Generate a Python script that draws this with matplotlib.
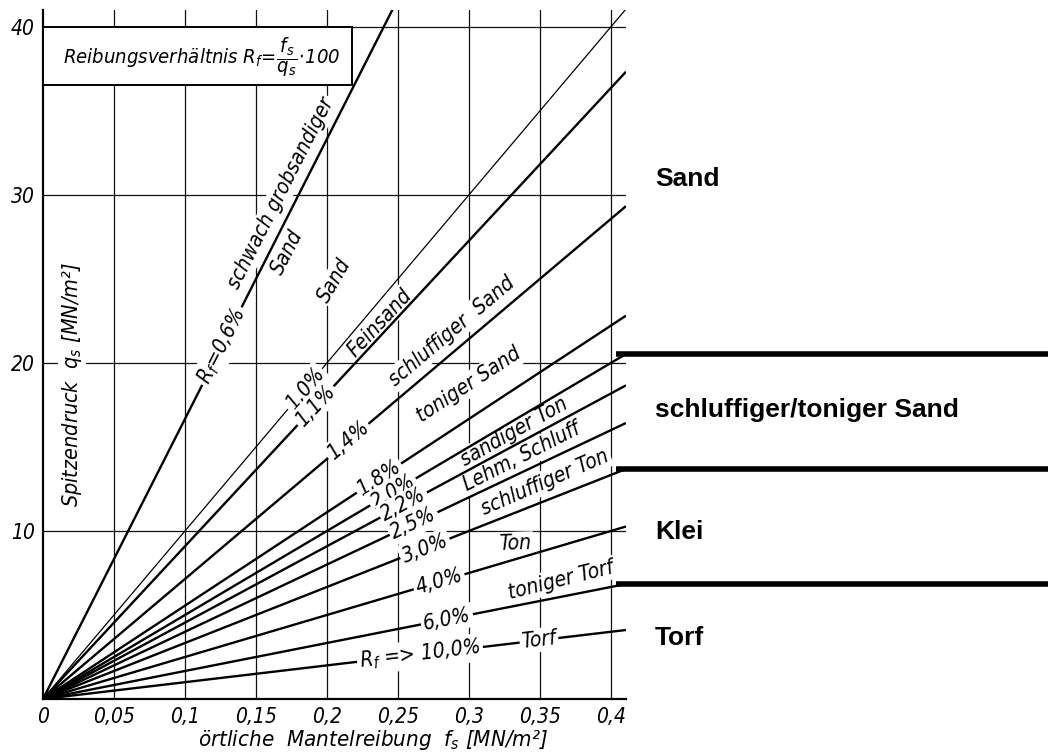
import math
import matplotlib
matplotlib.use("Agg")
import matplotlib.pyplot as plt
import matplotlib.transforms as mtransforms
from matplotlib.patches import Rectangle

plt.rcParams['font.family'] = ['DejaVu Sans']
plt.rcParams['font.style'] = 'italic'
plt.rcParams['font.stretch'] = 'condensed'
plt.rcParams['mathtext.fontset'] = 'custom'
plt.rcParams['mathtext.rm'] = 'DejaVu Sans:italic'
plt.rcParams['mathtext.it'] = 'DejaVu Sans:italic'
plt.rcParams['mathtext.bf'] = 'DejaVu Sans:italic:bold'

# ---------------- data ----------------
rf_values = [0.6, 1.0, 1.1, 1.4, 1.8, 2.0, 2.2, 2.5, 3.0, 4.0, 6.0, 10.0]
rf_labels = [r"$R_f$=0,6%", "1,0%", "1,1%", "1,4%", "1,8%", "2,0%", "2,2%",
             "2,5%", "3,0%", "4,0%", "6,0%", r"$R_f$ => 10,0%"]
x_ticks = [0, 0.05, 0.1, 0.15, 0.2, 0.25, 0.3, 0.35, 0.4]
x_ticklabels = ["0", "0,05", "0,1", "0,15", "0,2", "0,25", "0,3", "0,35", "0,4"]
y_ticks = [10, 20, 30, 40]
y_ticklabels = ["10", "20", "30", "40"]

soil_texts = ["schwach grobsandiger", "Sand", "Sand", "Feinsand", "schluffiger  Sand",
              "toniger Sand", "sandiger Ton", "Lehm, Schluff", "schluffiger Ton",
              "Ton", "toniger Torf", "Torf"]
class_boundary_rf = [2.0, 3.0, 6.0]
class_names = ["Sand", "schluffiger/toniger Sand", "Klei", "Torf"]

# ---------------- layout ----------------
W, H = 1048, 753
XMAX, YMAX = 0.4106, 41.0
FS = 15
fig = plt.figure(figsize=(W / 100, H / 100), dpi=100)
ax = fig.add_axes([43 / W, 54 / H, 583 / W, 689 / H])
ax.set_xlim(0, XMAX)
ax.set_ylim(0, YMAX)

for s in ['top', 'right']:
    ax.spines[s].set_visible(False)
for s in ['left', 'bottom']:
    ax.spines[s].set_linewidth(1.6)
    ax.spines[s].set_zorder(5)

ax.set_xticks(x_ticks)
ax.set_xticklabels(x_ticklabels, fontsize=FS)
ax.set_yticks(y_ticks)
ax.set_yticklabels(y_ticklabels, fontsize=FS)
ax.tick_params(length=0, pad=6)

# grid
for xv in x_ticks[1:]:
    ax.axvline(xv, color='#111111', lw=0.9, zorder=1)
for yv in y_ticks:
    ax.axhline(yv, color='#111111', lw=0.9, zorder=1)

def angle_of(rf):
    p0 = ax.transData.transform((0, 0))
    p1 = ax.transData.transform((0.1, 10.0 / rf))
    return math.degrees(math.atan2(p1[1] - p0[1], p1[0] - p0[0]))

# friction ratio lines
for rf in rf_values:
    lw = 0.9 if rf == 1.0 else 1.7
    ax.plot([0, XMAX], [0, XMAX * 100.0 / rf], color='black', lw=lw,
            zorder=3, solid_capstyle='butt')

# line labels (position along line in f)
label_f = [0.126, 0.1845, 0.192, 0.215, 0.2366, 0.2465, 0.254, 0.261,
           0.269, 0.279, 0.2845, 0.2655]
for rf, lab, fpos in zip(rf_values, rf_labels, label_f):
    ax.text(fpos, fpos * 100.0 / rf, lab, rotation=angle_of(rf),
            rotation_mode='anchor', ha='center', va='center', fontsize=FS,
            zorder=4, bbox=dict(boxstyle='square,pad=0.12', fc='white', ec='none'))

# soil labels: position (f, q) and angle reference
soil_pos = [(0.1676, 30.1), (0.1718, 26.6), (0.2056, 24.9), (0.2373, 22.4),
            (0.288, 21.9), (0.300, 18.7), (0.332, 15.9), (0.337, 14.4),
            (0.3535, 12.9), (0.3324, 9.23), (0.3648, 7.08), (0.3493, 3.51)]
soil_angle = [angle_of(0.6), angle_of(0.6), angle_of(0.6) - 3, angle_of(1.1),
              angle_of(1.4), angle_of(1.8), 29.5, 27.0, 23.5, 2.0, 14.0, angle_of(10.0)]
for txt, (fx, qy), ang in zip(soil_texts, soil_pos, soil_angle):
    z = 4 if txt == "Torf" else 2
    ax.text(fx, qy, txt, rotation=ang, rotation_mode='anchor', ha='center',
            va='center', fontsize=FS, zorder=z,
            bbox=dict(boxstyle='square,pad=0.1', fc='white', ec='none'))

# formula box
ax.add_patch(Rectangle((0, 0.891), 0.530, 0.084, transform=ax.transAxes,
                       fc='white', ec='black', lw=1.4, zorder=6))
ax.text(0.272, 0.931,
        r"Reibungsverhältnis $R_f\!=\!\dfrac{f_s}{q_s}\!\cdot\!100$",
        transform=ax.transAxes, ha='center', va='center', fontsize=14.5, zorder=7)

# axis labels
ax.text(0.050, 0.456, "Spitzendruck  $q_s$ [MN/m²]", transform=ax.transAxes,
        rotation=90, ha='center', va='center', fontsize=FS + 0.5, zorder=4,
        bbox=dict(boxstyle='square,pad=0.1', fc='white', ec='none'))
fig.text(373 / W, 1 - 740 / H, "örtliche  Mantelreibung  $f_s$ [MN/m²]",
         ha='center', va='center', fontsize=16)

# class boundaries on the right
blend = mtransforms.blended_transform_factory(fig.transFigure, ax.transData)
for rf in class_boundary_rf:
    yv = XMAX * 100.0 / rf
    ax.plot([616 / W, 1.0], [yv, yv], color='black', lw=4.0, transform=blend,
            clip_on=False, solid_capstyle='butt')

class_baselines = [186, 417, 539, 645]
for name, yb in zip(class_names, class_baselines):
    fig.text(655 / W, 1 - yb / H, name, ha='left', va='baseline', fontsize=19,
             fontweight='bold', family='Liberation Sans', style='normal',
             stretch='normal')

fig.savefig("out.png", dpi=100, facecolor='white')
